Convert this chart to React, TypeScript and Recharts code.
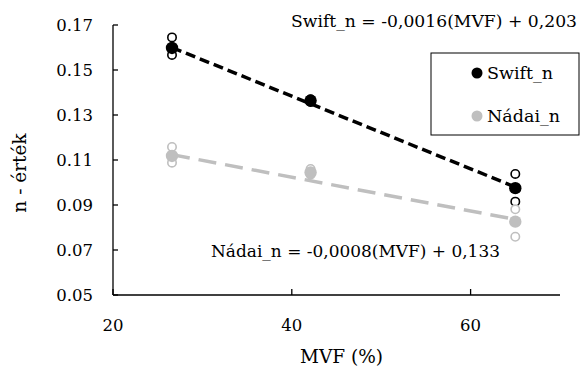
import React from 'react';
import { ComposedChart, XAxis, YAxis, Scatter, Line, Customized } from 'recharts';

// MVF (%) categories
const mvf = [26.6, 42.1, 65.0];
// Swift_n values
const swiftMean = [0.1598, 0.1364, 0.0975];
const swiftHigh = [0.1645, 0.137, 0.1038];
const swiftLow = [0.1567, 0.1358, 0.0915];
// Nádai_n values
const nadaiMean = [0.1118, 0.1045, 0.0826];
const nadaiHigh = [0.1158, 0.106, 0.0881];
const nadaiLow = [0.1088, 0.1035, 0.0759];
// trend line end points
const trendX = [26.6, 65.0];
const swiftTrend = [0.16, 0.098];
const nadaiTrend = [0.1124, 0.0836];
// ticks
const xTicks = [20, 40, 60];
const yTicks = [0.05, 0.07, 0.09, 0.11, 0.13, 0.15, 0.17];

const pts = (xs: number[], ys: number[]) => xs.map((x, i) => ({ x, y: ys[i] }));

const FONT = '"DejaVu Serif", "Liberation Serif", "Times New Roman", serif';
const BLACK = '#000000';
const GRAY = '#BFBFBF';

const openDot = (color: string) => (p: any) => (
  <circle cx={p.cx} cy={p.cy} r={4.2} fill="#ffffff" stroke={color} strokeWidth={1.6} />
);
const filledDot = (color: string) => (p: any) => <circle cx={p.cx} cy={p.cy} r={6.2} fill={color} />;

const txt = (size: number) => ({ fontFamily: FONT, fontSize: size });

const Overlay = () => (
  <g fill="#000">
    <text x={291} y={27} style={txt(17.5)} textLength={286} lengthAdjust="spacingAndGlyphs">
      Swift_n = -0,0016(MVF) + 0,203
    </text>
    <text x={211} y={257} style={txt(17.5)} textLength={289} lengthAdjust="spacingAndGlyphs">
      Nádai_n = -0,0008(MVF) + 0,133
    </text>
    <rect x={431} y={53} width={148} height={82} fill="#fff" stroke="#000" strokeWidth={1} />
    <circle cx={477} cy={73} r={5.5} fill={BLACK} />
    <text x={487} y={78.5} style={txt(17.5)}>Swift_n</text>
    <circle cx={477} cy={116} r={5.5} fill={GRAY} />
    <text x={487} y={121.5} style={txt(17.5)}>Nádai_n</text>
  </g>
);

export default function App() {
  const tickStyle = { fill: '#000', style: txt(16.5) };
  return (
    <div style={{ position: 'absolute', left: 0, top: 0, width: 588, height: 368, background: '#fff', fontFamily: FONT }}>
      <ComposedChart width={588} height={368} margin={{ top: 25, right: 28, left: 0, bottom: 0 }} style={{ fontFamily: FONT }}>
        <XAxis
          type="number"
          dataKey="x"
          domain={[20, 70]}
          ticks={xTicks}
          allowDataOverflow
          height={73}
          tickSize={-6}
          tickMargin={30}
          tick={tickStyle}
          stroke="#000"
          strokeWidth={1.3}
          label={{
            content: (props: any) => {
              const vb = props.viewBox;
              return (
                <text x={vb.x + vb.width / 2 + 5} y={363} textAnchor="middle" style={txt(18.5)} fill="#000">
                  MVF (%)
                </text>
              );
            },
          }}
        />
        <YAxis
          type="number"
          dataKey="y"
          domain={[0.05, 0.17]}
          ticks={yTicks}
          allowDataOverflow
          width={113}
          tickSize={-5}
          tickMargin={25}
          tick={tickStyle}
          tickFormatter={(v: number) => v.toFixed(2)}
          stroke="#000"
          strokeWidth={1.3}
          label={{
            content: (props: any) => {
              const vb = props.viewBox;
              const cy = vb.y + vb.height / 2 + 13;
              return (
                <text
                  x={19}
                  y={cy}
                  transform={`rotate(-90 19 ${cy})`}
                  textAnchor="middle"
                  dominantBaseline="central"
                  style={txt(18.5)}
                  fill="#000"
                >
                  n - érték
                </text>
              );
            },
          }}
        />
        <Line
          data={pts(trendX, nadaiTrend)}
          dataKey="y"
          type="linear"
          stroke={GRAY}
          strokeWidth={3.5}
          strokeDasharray="18 9"
          dot={false}
          activeDot={false}
          isAnimationActive={false}
        />
        <Line
          data={pts(trendX, swiftTrend)}
          dataKey="y"
          type="linear"
          stroke={BLACK}
          strokeWidth={3.5}
          strokeDasharray="10 5"
          dot={false}
          activeDot={false}
          isAnimationActive={false}
        />
        <Scatter data={pts(mvf, swiftHigh)} dataKey="y" shape={openDot(BLACK)} isAnimationActive={false} />
        <Scatter data={pts(mvf, swiftLow)} dataKey="y" shape={openDot(BLACK)} isAnimationActive={false} />
        <Scatter data={pts(mvf, nadaiHigh)} dataKey="y" shape={openDot(GRAY)} isAnimationActive={false} />
        <Scatter data={pts(mvf, nadaiLow)} dataKey="y" shape={openDot(GRAY)} isAnimationActive={false} />
        <Scatter data={pts(mvf, swiftMean)} dataKey="y" shape={filledDot(BLACK)} isAnimationActive={false} />
        <Scatter data={pts(mvf, nadaiMean)} dataKey="y" shape={filledDot(GRAY)} isAnimationActive={false} />
        <Customized component={Overlay} />
      </ComposedChart>
    </div>
  );
}
